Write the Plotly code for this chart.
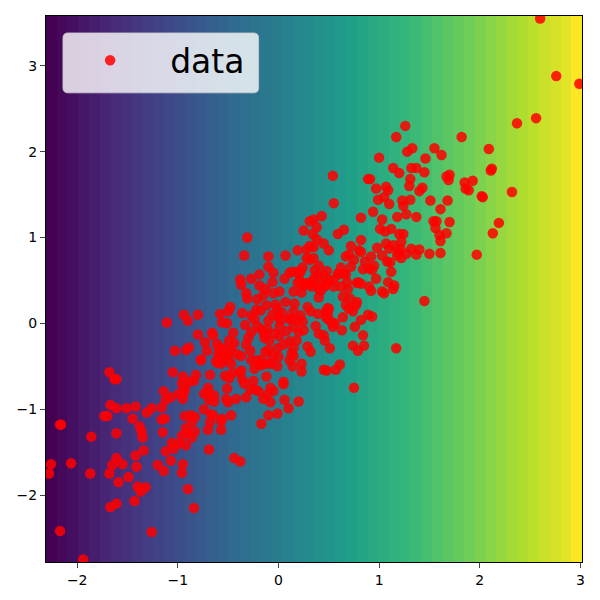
import plotly.graph_objects as go

# Wertebereich der Achsen
x_lim = [-2.31, 3.016]
y_lim = [-2.78, 3.58]
x_ticks = [-2, -1, 0, 1, 2, 3]
y_ticks = [-2, -1, 0, 1, 2, 3]

# Farbverlauf im Hintergrund (50 Spalten, links nach rechts)
band_levels = [0.00, 0.02, 0.04, 0.06, 0.08, 0.10, 0.12, 0.14, 0.16, 0.18,
               0.20, 0.22, 0.24, 0.26, 0.28, 0.30, 0.32, 0.34, 0.36, 0.38,
               0.40, 0.42, 0.44, 0.46, 0.48, 0.50, 0.52, 0.54, 0.56, 0.58,
               0.60, 0.62, 0.64, 0.66, 0.68, 0.70, 0.72, 0.74, 0.76, 0.78,
               0.80, 0.82, 0.84, 0.86, 0.88, 0.90, 0.92, 0.94, 0.96, 1.00]

# Punkte (x, y)
points_low = [
    (-1.68,-0.57),(-1.63,-0.65),(-1.61,-0.65),(-1.67,-0.95),(-1.61,-0.99),(-1.51,-0.99),(-1.42,-0.97),
    (-1.73,-1.08),(-1.70,-1.08),(-1.45,-1.11),(-2.16,-1.18),(-2.17,-1.18),(-1.61,-1.28),(-1.86,-1.32),(-1.38,-1.20),
    (-1.36,-1.26),(-1.35,-1.33),(-1.31,-1.04),(-1.26,-0.99),(-1.16,-0.98),(-1.16,-1.12),(-1.13,-1.11),
    (-1.15,-1.27),(-1.34,-1.48),(-1.42,-1.54),(-1.61,-1.57),(-1.65,-1.65),(-1.55,-1.64),(-1.41,-1.67),
    (-2.26,-1.64),(-2.06,-1.63),(-2.28,-1.75),(-1.87,-1.75),(-1.68,-1.75),(-1.49,-1.79),(-1.59,-1.85),
    (-1.40,-1.90),(-1.32,-1.91),(-1.37,-1.96),(-1.61,-2.10),(-1.67,-2.14),(-1.43,-2.07),(-2.17,-2.42),
    (-1.26,-2.43),(-1.94,-2.75),(-1.20,-1.65),(-1.14,-1.72),(-1.07,-1.60),(-1.12,-1.49),(-1.04,-1.46),
    (-1.06,-1.39),(-0.99,-1.40),(-0.92,-1.42),(-0.95,-1.64),(-0.96,-1.74),(-0.90,-1.93),(-0.84,-2.15),
    (-0.69,-1.47),(-0.44,-1.57),(-0.38,-1.61),(-0.96,-1.31),(-0.92,-1.22),(-0.90,-1.28),(-0.86,-1.33),
    (-0.83,-1.26),(-0.93,-1.08),(-0.87,-1.07),(-0.83,-1.09),(-0.86,-1.15),(-0.74,-1.00),(-0.67,-1.06),
    (-0.65,-1.07),(-0.68,-1.15),(-0.70,-1.24),(-0.57,-1.24),(-0.56,-1.11),(-0.57,-1.14),(-0.47,-1.07),
    (-1.14,-0.79),(-1.12,-0.89),(-1.07,-0.86),(-0.99,-0.82),(-0.94,-0.81),(-0.95,-0.88),(-0.96,-0.70),
    (-0.95,-0.62),(-1.05,-0.57),(-0.89,-0.68),(-0.84,-0.67),(-0.82,-0.60),(-0.68,-0.60),(-0.77,-0.43),
    (-0.70,-0.75),(-0.74,-0.82),(-0.69,-0.81),(-0.64,-0.84),(-0.69,-0.89),(-0.64,-0.91),(-0.52,-0.88),
    (-0.50,-0.92),(-0.42,-0.88),(-0.51,-0.76),(-0.53,-0.61),(-0.49,-0.64),(-0.46,-0.58),(-0.39,-0.57),
    (-0.62,-0.44),(-0.57,-0.47),(-0.47,-0.47),(-0.93,-0.77),
]
points_core = [
    (-1.11,0.01),(-0.94,0.10),(-0.90,0.03),(-0.80,0.10),(-0.80,-0.13),(-1.03,-0.32),(-0.92,-0.31),(-0.89,-0.28),
    (-0.73,-0.22),(-0.71,-0.32),(-0.77,-0.42),(-0.66,-0.11),(-0.65,-0.14),(-0.58,0.11),(-0.48,0.19),(-0.50,0.14),
    (-0.56,0.01),(-0.51,0.00),(-0.45,-0.11),(-0.36,0.12),(-0.33,-0.02),(-0.27,0.09),(-0.30,-0.17),(-0.27,-0.10),
    (-0.32,-0.25),(-0.61,-0.24),(-0.49,-0.20),(-0.44,-0.23),(-0.59,-0.29),(-0.54,-0.29),(-0.50,-0.35),(-0.60,-0.36),
    (-0.61,-0.46),(-0.41,-0.36),(-0.37,-0.38),(-0.28,-0.32),(-0.27,-0.43),(-0.22,-0.43),(-0.24,-0.53),(-0.17,-0.49),
    (-0.11,-0.47),(-0.01,-0.50),(-0.37,-0.55),(-0.36,-0.65),(-0.34,-0.70),(-0.25,-0.67),(-0.12,-0.62),(0.05,-0.68),
    (0.05,-0.71),(-0.28,-0.77),(-0.23,-0.77),(-0.20,-0.79),(-0.08,-0.75),(-0.05,-0.79),(-0.32,-0.86),(-0.15,-0.88),
    (-0.11,-0.83),(-0.08,-0.92),(0.06,-0.89),(0.10,-0.99),(0.20,-0.91),(-0.10,-1.07),(-0.01,-1.05),(-0.17,-1.17),
    (-0.10,0.66),(-0.05,0.59),(-0.19,0.57),(-0.27,0.52),(-0.38,0.51),(-0.37,0.45),(-0.19,0.44),(-0.06,0.48),
    (0.06,0.52),(0.14,0.60),(0.20,0.58),(0.15,0.37),(-0.13,0.40),(-0.32,0.35),(-0.31,0.29),(-0.15,0.33),
    (-0.21,0.28),(-0.05,0.35),(0.01,0.37),(0.07,0.25),(0.16,0.23),(-0.12,0.21),(-0.03,0.22),(-0.01,0.17),
    (-0.22,0.16),(-0.18,0.15),(0.15,0.14),(0.00,0.07),(-0.10,0.03),(0.11,0.05),(0.15,-0.04),(-0.21,-0.03),
    (-0.17,-0.07),(-0.11,-0.07),(0.01,-0.04),(0.01,-0.15),(-0.09,-0.20),(0.11,-0.21),(0.18,-0.20),(-0.13,-0.33),
    (-0.10,-0.31),(-0.01,-0.29),(0.00,-0.39),(0.13,-0.35),(0.11,-0.43),(0.14,-0.50),(-0.14,-0.17),
    (-0.06,-0.38),(-0.04,-0.12),(-0.06,0.10),(0.04,0.12),(-0.24,0.05),(-0.14,-0.12),
    (-0.52,-0.33),(-0.47,-0.30),(-0.53,-0.40),(-0.17,-0.42),(-0.20,-0.48),(0.08,-0.09),(0.05,-0.25),(-0.07,-0.47),
    (-0.56,-0.33),(-0.50,-0.42),(-0.58,-0.41),
    (0.54,1.72),(0.55,1.40),(0.43,1.25),(0.31,1.19),(0.35,1.21),(0.38,1.12),(0.25,1.08),(0.34,1.04),(0.38,0.98),
    (-0.31,1.00),(-0.34,0.79),(-0.10,0.78),(0.07,0.79),(0.19,0.85),(0.28,0.86),(0.31,0.90),(0.35,0.89),(0.45,0.93),
    (0.50,0.85),(0.28,0.76),(0.31,0.74),(0.35,0.76),(0.40,0.67),(0.48,0.61),(0.36,0.62),(0.24,0.65),(0.22,0.60),
    (0.62,0.65),(0.59,1.04),(0.65,1.09),(0.82,1.23),(0.89,1.68),(0.94,1.30),(0.82,0.97),(0.72,0.90),(0.80,0.85),
    (0.82,0.83),(0.70,0.80),(0.67,0.78),(0.75,0.74),(0.86,0.72),(0.72,0.66),(0.84,0.63),(0.67,0.57),(0.68,0.48),
    (0.60,0.57),(0.79,0.48),(0.90,0.64),
    (0.45,0.56),(0.39,0.56),(0.42,0.38),(0.29,0.47),(0.24,0.44),(0.11,0.59),(0.34,0.48),
    (0.12,0.06),(0.19,0.03),(0.02,0.03),(0.47,0.07),
]
points_mid = [
    (1.03,1.21),(1.18,1.24),(1.27,1.27),(1.37,1.24),(1.01,1.10),(1.06,1.07),(1.12,1.10),(1.20,1.04),(1.24,1.04),
    (1.22,0.95),(1.07,0.93),(1.14,0.91),(1.10,0.87),(0.98,0.88),(1.03,0.79),(1.19,0.83),(1.18,0.79),(1.22,0.76),
    (1.27,0.81),(1.32,0.87),(1.37,0.80),(1.40,0.86),(1.50,0.81),(0.92,0.78),(0.95,0.67),(0.93,0.62),(1.08,0.72),
    (1.11,0.71),(1.12,0.60),(0.97,0.52),(1.09,0.48),(1.15,0.44),(1.14,0.40),(1.03,0.37),(1.05,0.35),(0.92,0.38),
    (0.90,0.43),(0.82,0.46),(0.78,0.47),(0.69,0.40),(0.64,0.31),(0.71,0.29),(0.78,0.25),(0.67,0.21),(0.77,0.21),
    (0.70,0.17),(0.74,0.14),(0.50,0.17),(0.47,0.14),(0.39,0.11),(0.32,0.14),(0.29,0.19),(0.40,0.30),(0.23,0.36),
    (0.33,0.43),(0.46,0.43),(0.55,0.43),(0.62,0.43),(0.47,0.46),(0.50,0.50),(0.43,0.47),(0.55,0.51),(0.59,0.58),
    (0.65,0.58),(0.35,0.52),(0.25,0.47),(0.19,0.47),(0.21,0.50),(0.19,0.60),(0.49,0.18),(0.49,0.11),(0.50,0.04),
    (0.64,0.07),(0.53,0.01),(0.56,0.00),(0.54,-0.04),(0.82,0.04),(0.89,0.10),(0.93,0.08),(0.76,-0.04),(0.63,-0.08),
    (0.84,-0.14),(0.37,-0.03),(0.40,-0.12),(0.45,-0.14),(0.46,-0.20),(0.51,-0.29),(0.74,-0.26),(0.85,-0.26),
    (0.79,-0.32),(1.17,-0.29),(1.45,0.26),(0.29,-0.27),(0.32,-0.33),(0.25,-0.08),(0.22,0.09),(0.15,-0.29),
    (0.15,-0.38),(0.23,-0.47),(0.23,-0.56),(0.45,-0.54),(0.48,-0.55),(0.57,-0.54),(0.61,-0.48),(0.75,-0.75),
    (0.20,-0.10),(0.24,0.02),(0.30,0.45),(0.40,0.40),
]
points_high = [
    (2.60,3.55),(2.76,2.88),(2.99,2.79),(2.56,2.39),(2.37,2.33),(1.26,2.30),(1.17,2.17),(1.82,2.17),(2.09,2.03),
    (1.33,2.04),(1.28,2.00),(1.55,2.04),(1.62,1.96),(1.46,1.92),(1.00,1.93),(1.14,1.81),(1.20,1.75),(1.32,1.81),
    (1.37,1.81),(1.45,1.76),(1.31,1.68),(1.30,1.60),(1.43,1.58),(1.40,1.54),(1.67,1.71),(1.70,1.73),(1.69,1.67),
    (1.85,1.64),(1.93,1.66),(1.86,1.57),(1.89,1.55),(2.12,1.80),(2.11,1.78),(2.03,1.47),(2.02,1.48),(2.32,1.53),(1.51,1.43),
    (1.68,1.43),(1.61,1.33),(1.23,1.43),(1.31,1.44),(1.24,1.37),(1.10,1.39),(1.05,1.47),(0.99,1.44),(0.97,1.57),
    (1.07,1.59),(1.09,1.55),(0.91,1.68),(1.54,1.19),(1.57,1.19),(1.70,1.18),(1.56,1.11),(1.60,1.03),(1.67,1.05),
    (1.61,0.96),(2.19,1.17),(2.13,1.05),(1.97,0.80),(1.61,0.82),(1.21,0.87),
]

all_points = points_low + points_core + points_mid + points_high
data_x = [p[0] for p in all_points]
data_y = [p[1] for p in all_points]

fig = go.Figure()

# Hintergrund
band_width = (x_lim[1] - x_lim[0]) / len(band_levels)
fig.add_trace(go.Heatmap(
    z=[band_levels, band_levels],
    x0=x_lim[0] + band_width / 2,
    dx=band_width,
    y=y_lim,
    colorscale='Viridis',
    zmin=0,
    zmax=1,
    showscale=False,
    hoverinfo='skip',
    showlegend=False,
))

fig.add_trace(go.Scatter(
    x=data_x,
    y=data_y,
    mode='markers',
    name='data',
    showlegend=True,
    marker=dict(color='red', size=10.5, opacity=0.85, line=dict(width=0)),
))

# Legendenbox mit runden Ecken (plot area: 537 x 547 px)
bx0, bx1 = 17 / 537, 213 / 537
by0, by1 = 1 - 77 / 547, 1 - 17 / 547
rx, ry = 5 / 537, 5 / 547
box_path = (f"M {bx0 + rx} {by0} L {bx1 - rx} {by0} Q {bx1} {by0} {bx1} {by0 + ry} "
            f"L {bx1} {by1 - ry} Q {bx1} {by1} {bx1 - rx} {by1} "
            f"L {bx0 + rx} {by1} Q {bx0} {by1} {bx0} {by1 - ry} "
            f"L {bx0} {by0 + ry} Q {bx0} {by0} {bx0 + rx} {by0} Z")
fig.add_shape(type='path', path=box_path, xref='paper', yref='paper', layer='above',
              fillcolor='rgba(255,255,255,0.8)', line=dict(color='rgba(204,204,204,0.8)', width=1))

fig.update_layout(
    width=600,
    height=600,
    margin=dict(l=45.5, r=17.5, t=15.5, b=37.5),
    paper_bgcolor='white',
    plot_bgcolor='white',
    showlegend=True,
    font=dict(family='DejaVu Sans', size=14, color='black'),
    legend=dict(
        x=0.0077,
        y=0.97,
        xanchor='left',
        yanchor='top',
        bgcolor='rgba(0,0,0,0)',
        borderwidth=0,
        itemwidth=110,
        font=dict(size=33),
    ),
    xaxis=dict(range=x_lim, tickvals=x_ticks, ticks='outside', ticklen=5, tickwidth=1,
               showgrid=False, zeroline=False, showline=True, mirror=True, linecolor='black', linewidth=1),
    yaxis=dict(range=y_lim, tickvals=y_ticks, ticks='outside', ticklen=5, tickwidth=1,
               showgrid=False, zeroline=False, showline=True, mirror=True, linecolor='black', linewidth=1),
)

fig.write_html("out.html", post_script="document.body.style.margin='0';",
               config=dict(displayModeBar=False))
